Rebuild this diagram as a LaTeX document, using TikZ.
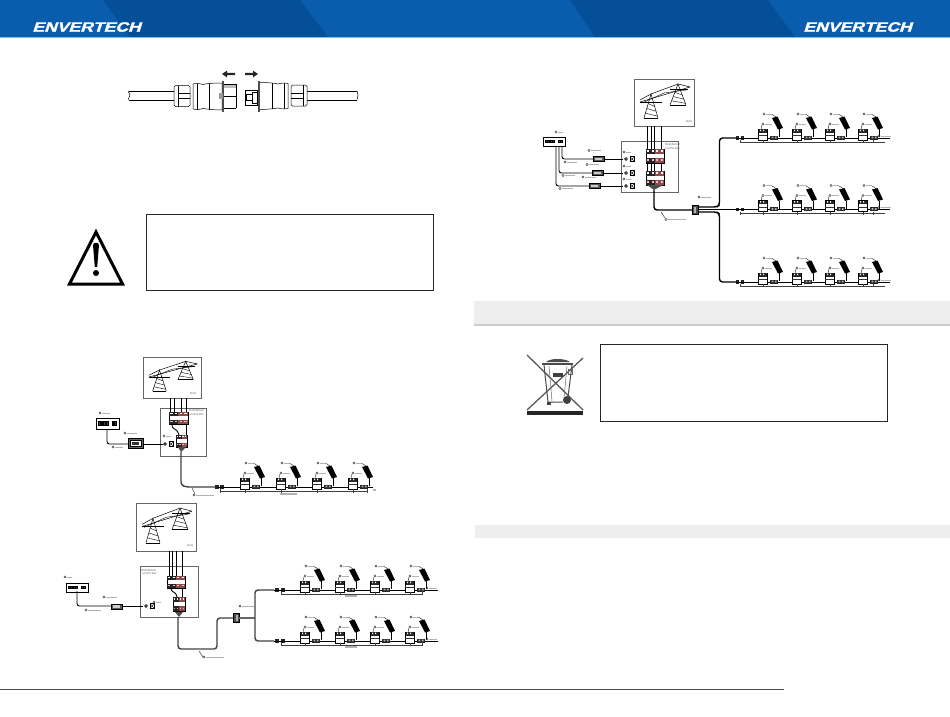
\documentclass[tikz,border=0pt]{standalone}
\usepackage{fontspec}
\setmainfont{Liberation Sans}
\newfontfamily\logofont[FakeBold=1.6,FakeSlant=0.25]{Liberation Sans}
\usepackage{xcolor}
\usetikzlibrary{calc}

\definecolor{bandblue}{HTML}{0A5CAD}
\definecolor{banddark}{HTML}{054F99}
\definecolor{barfill}{HTML}{EEEEEE}

\tikzset{
    wire/.style={line width=0.9pt,line join=round,rounded corners=2.5pt},
    trunk/.style={line width=1.4pt,black!75,line join=round,rounded corners=3pt},
    thin wire/.style={line width=0.45pt,black!75},
    tagline/.style={line width=1.1pt,black!30},
    frame/.style={line width=0.6pt,black!60},
    notebox/.style={line width=0.9pt,draw=black!85,fill=white},
    tinytext/.style={font=\fontsize{3}{3.4}\selectfont,text=black!60,align=left,inner sep=0pt},
    logotext/.style={font=\logofont\bfseries\fontsize{13.5}{14}\selectfont,text=white,inner sep=0pt},
    % small ring with a greyed-out caption behind it
    tag/.pic={
        \draw[line width=0.4pt,black!85] (0,0) circle (1.1);
        \draw[tagline] (1.8,0.3) -- ++(#1,0);
    },
    % one microinverter with its panel, origin on the string line
    microunit/.pic={
        \fill[black] (9,-20) -- (14.5,-21.5) -- (20,-10) -- (15,-8.5) -- cycle;
        \draw[line width=0.7pt] (16,-9) -- (16,-1);
        \draw[line width=0.6pt,fill=white] (-5,-9) rectangle (4,2);
        \fill[black!85] (-4.5,-9) rectangle (3.5,-5.5);
        \fill[white] (-3,-8.4) rectangle (-1.8,-7) (0,-8.4) rectangle (1.2,-7);
        \fill[black!80] (-5,-3) rectangle (4,-1.6);
        \fill[black!85] (7,-2.5) rectangle (15,1.8);
        \fill[white!70!black] (8.6,-1.4) rectangle (10.4,0.4) (11.8,-1.4) rectangle (13.6,0.4);
        \pic at (1,-24) {tag=6};
        \draw[line width=0.35pt] (9,-23.6) -- (13,-21);
        \pic at (0,-14) {tag=7};
        \draw[line width=0.35pt] (-1,-13) -- (-2,-9);
    },
    % row of four breaker poles
    breaker/.pic={
        \draw[line width=0.4pt,fill=white] (0,0) rectangle (18,12);
        \fill[black!85] (0,0) rectangle (9,4);
        \fill[red!35!black!70] (9,0) rectangle (18,4);
        \fill[black!85] (0,7.5) rectangle (9,12);
        \fill[red!35!black!70] (9,7.5) rectangle (18,12);
        \foreach \pole in {1,5.5,10,14.5} {
            \fill[white] (\pole,0.8) rectangle ++(2.4,1.6);
            \fill[white!70!red] (\pole,8.8) rectangle ++(2.4,1.6);
        }
    },
    % the two pylons, in a box of 60 by 47
    pylons/.pic={
        \draw[frame,fill=white] (0,0) rectangle (60,47);
        \foreach \tx/\ty/\tw/\th in {17/15/7/24,44/5/8/21} {
            \draw[line width=0.5pt] (\tx-\tw,\ty+\th) -- (\tx,\ty) -- (\tx+\tw,\ty+\th);
            \foreach \st in {0.4,0.6,0.8} {
                \draw[line width=0.4pt] ($(\tx,\ty)!\st!(\tx-\tw,\ty+\th)$) -- ($(\tx,\ty)!\st+0.12!(\tx+\tw,\ty+\th)$);
            }
            \draw[line width=0.4pt] (\tx-\tw,\ty+\th) -- (\tx+\tw,\ty+\th);
        }
        \draw[line width=0.5pt] (6,23) -- (56,8);
        \draw[line width=0.5pt] (6,21) -- (17,15) -- (44,5) -- (56,8);
        \draw[line width=0.4pt] (8,24) -- (30,14) -- (52,11);
        \draw[line width=0.4pt] (6,23) -- (28,23) (36,10) -- (54,10);
    },
    % the plug in the field cable
    plug/.pic={
        \fill[black!85] (-1.9,-1.6) rectangle (1.9,1.6);
    },
    % terminal pair in the control box
    outlet/.pic={
        \draw[line width=0.7pt] (0,0) circle (1.3);
        \draw[line width=0.7pt] (4,-2.5) rectangle (8.5,2.5);
        \draw[line width=0.4pt] (4,-2.5) -- (8.5,2.5) (4,2.5) -- (8.5,-2.5);
    },
    % dark box on the trunk
    junction/.pic={
        \draw[line width=0.5pt,fill=black!70] (-2.8,-4.5) rectangle (2.8,4.5);
        \fill[white!70!black] (-1,-3) rectangle (1,3);
    },
    % monitoring unit
    gateway/.pic={
        \draw[line width=0.6pt,fill=white] (0,0) rectangle (22,9);
        \foreach \sx in {2,4.5,7,9.5,15,17.5} {
            \draw[line width=0.3pt,fill=black!75] (\sx,3) rectangle ++(1.8,2.6);
        }
    },
    % half of the waterproof coupling
    coupler/.pic={
        \draw[line width=0.5pt,fill=white,rounded corners=1.5pt] (0,-10.5) rectangle (16,10.5);
        \draw[line width=0.5pt] (4,-10.5) -- (4,10.5) (4,-2.5) -- (16,-2.5) (4,2.5) -- (16,2.5);
        \draw[line width=0.5pt,fill=white] (19,-12) .. controls (23,-13) and (25,-12.5) .. (29,-11.5) .. controls (32,-12.5) and (40,-13) .. (48,-13)
            -- (48,14) .. controls (40,14) and (32,13) .. (29,12.5) .. controls (25,13.5) and (23,14) .. (19,13) -- cycle;
        \draw[line width=0.5pt] (23,-12.5) -- (23,13.5) (35,-12.5) -- (35,13.5);
        \fill[black!70] (47.5,-15) rectangle (49.5,16);
    },
    % short heavy arrow, pointing along +x
    pullarrow/.pic={
        \fill[black!85] (0,-1.2) -- (8,-1.2) -- (8,-3.4) -- (13,0) -- (8,3.4) -- (8,1.2) -- (0,1.2) -- cycle;
    }
}

\begin{document}
\begin{tikzpicture}[x=1pt,y=-1pt]
    \useasboundingbox (0,0) rectangle (950,717);

    % Header band of both pages
    \fill[bandblue] (0,0) rectangle (950,37);
    \fill[banddark] (103,0) -- (300,0) -- (328,37) -- (130,37) -- cycle;
    \fill[banddark] (570,0) -- (768,0) -- (795,37) -- (595,37) -- cycle;
    \fill[blue!45!cyan!55!white] (0,37) rectangle (950,38);
    \node[logotext] (logoleft) at (86.5,27) {\scalebox{1.3}[1]{ENVERTECH}};
    \node[logotext] (logoright) at (857.5,27) {\scalebox{1.3}[1]{ENVERTECH}};

    % Cable coupling at the top of the left page
    \draw[line width=0.5pt] (129,91) -- (175,91) (129,100) -- (175,100);
    \draw[line width=0.5pt] (128,91) -- (130,95) -- (128,100);
    \draw[line width=0.5pt] (307,91) -- (357,91) (307,100) -- (357,100);
    \draw[line width=0.5pt] (357,91) -- (358,95) -- (357,100);
    \pic at (174,96) {coupler};
    \pic[xscale=-1] at (307,95.5) {coupler};
    \draw[line width=0.45pt] (224,84) -- (236,84) (224,108) -- (236,108) (224,96) -- (236,96) (236,84) -- (236,108);
    \fill[black!25] (224,84.5) rectangle (236,88);
    \fill[black!40] (219,93) rectangle (223,99);
    \draw[line width=0.5pt] (245,90) rectangle (257,105);
    \draw[line width=0.4pt] (246,94) rectangle (252,100);
    \draw[line width=0.4pt] (252,92) rectangle (257,103);
    \pic[xscale=-1] at (235,74) {pullarrow};
    \pic at (245,74) {pullarrow};

    % Warning sign and its box
    \draw[line width=3pt,line join=miter] (96,232) -- (69.5,284) -- (122.5,284) -- cycle;
    \fill[black] (93,245) .. controls (93,242) and (99,242) .. (99,245) -- (97.2,267) -- (94.8,267) -- cycle;
    \fill[black] (96,273) circle (3);
    \draw[notebox] (146.5,214) rectangle (433,290);

    % Section bars of the right page
    \fill[barfill] (474,301) rectangle (950,324);
    \fill[black!20] (474,324) rectangle (950,326);
    \fill[barfill] (475,525) rectangle (950,538);

    % Crossed-out bin
    \draw[line width=1.3pt,black!65] (527,355) -- (583,410) (583,358) -- (527,410);
    \fill[black!85] (527,411) rectangle (583,415);
    \fill[black!70] (542,362.5) rectangle (573,364.5);
    \fill[black!70] (546,362) .. controls (550,358) and (565,358) .. (570,362) -- cycle;
    \draw[line width=1pt,black!70] (544,365) -- (548,402) -- (563,402) (572,365) -- (568,397);
    \draw[line width=0.5pt,black!60] (549,366) -- (552,401) (567,366) -- (564,398);
    \fill[black!75] (567,400) circle (4);
    \fill[black!75] (553,373) rectangle (563,377);
    \draw[line width=0.6pt,black!60] (568,369) rectangle (572,374);
    \fill[black!75] (547,402) rectangle (551,405);
    \draw[notebox] (600,344.5) rectangle (887,421);

    % Footer rule
    \draw[line width=1pt,black!70] (0,689) -- (784,689);

    % ---- Single phase diagram, left page top
    \pic[xscale=0.97,yscale=0.87] at (143,357) {pylons};
    \node[tinytext] (gridone) at (193,393) {Grid};
    \draw[frame] (160,408) rectangle (206,456);
    \node[tinytext,anchor=north west] (boxone) at (189,409.5) {Distribution\\ control box};
    \foreach \wx in {170,174,181,186} {
        \draw[line width=0.9pt] (\wx,398) -- (\wx,412);
    }
    \pic[xscale=1.05] at (169,412) {breaker};
    \pic[xscale=0.62] at (176,435) {breaker};
    \draw[wire] (172,424) -- (172,428) -- (177,430) -- (179,435);
    \draw[wire] (186,424) -- (186,435);
    \fill[black!70] (178,447) -- (186,447) -- (181,452) -- cycle;
    \coordinate (feedone) at (181,452);
    \coordinate (plugone) at (217,487);
    \draw[trunk] (feedone) -- (181,485) -- (186,487) -- (plugone);
    \pic at (217,487) {plug};
    \pic at (222,487) {plug};
    \draw[wire] (plugone) -- (373,487);
    \foreach \ux in {245,281,317,353} {
        \pic at (\ux,487) {microunit};
        \draw[thin wire] (\ux,489) -- (\ux,493);
    }
    \draw[thin wire] (220,489) -- (220,493) (220,491) -- (367,491) (367,489) -- (367,493);
    \draw[tagline] (280,494) -- (297,494);
    \draw[tagline] (373,490) -- (376,490);
    \draw[line width=0.35pt] (192,488) -- (195,494);
    \pic at (194,495) {tag=18};
    \pic at (96,418) [xscale=1.05,yscale=1.2] {gateway};
    \pic at (100,413) {tag=8};
    \draw[wire] (107,429) -- (107,444) -- (128,444);
    \pic at (113,447) {tag=8};
    \draw[line width=0.5pt,fill=black!60] (128,438) rectangle (143,448);
    \draw[line width=0.4pt,fill=white] (130,440) rectangle (141,446);
    \fill[black!80] (132,441.5) rectangle (139,444.5);
    \pic at (125,433) {tag=10};
    \draw[wire] (143,444) -- (163,444);
    \pic at (165,444) {outlet};
    \pic at (164,436) {tag=5};

    % ---- Split phase diagram, left page bottom
    \pic[xscale=1,yscale=1.02] at (136,503) {pylons};
    \node[tinytext] (gridtwo) at (190,545) {Grid};
    \draw[frame] (140,566) rectangle (198,617);
    \node[tinytext,anchor=north west] (boxtwo) at (141,569) {Distribution\\ \ control box};
    \foreach \wx in {169,172,176,182} {
        \draw[line width=0.9pt] (\wx,551) -- (\wx,576);
    }
    \pic at (167,576) {breaker};
    \pic[xscale=0.67,yscale=1.2] at (173,597) {breaker};
    \draw[wire] (171,588) -- (171,591) -- (176,593) -- (177,597);
    \draw[wire] (182,588) -- (182,597);
    \fill[black!70] (175,612) -- (183,612) -- (179,617) -- cycle;
    \coordinate (feedtwo) at (178,617);
    \coordinate (jointwo) at (235,618);
    \draw[trunk] (feedtwo) -- (178,649) -- (217,649) -- (217,618) -- (jointwo);
    \pic at (236.5,618) {junction};
    \pic at (240,606) {tag=12};
    \draw[line width=1.8pt,black!60] (239,618) -- (255,618);
    \draw[trunk] (274,590) -- (255,590) -- (255,641) -- (274,641);
    \foreach \ry in {590,641} {
        \pic at (277,\ry) {plug};
        \pic at (283,\ry) {plug};
        \draw[wire] (274,\ry) -- (438,\ry);
        \foreach \ux in {305,340,375,410} {
            \pic at (\ux,\ry) {microunit};
            \draw[thin wire] (\ux,\ry+2) -- (\ux,\ry+5);
        }
        \draw[thin wire] (281,\ry+2) -- (281,\ry+4) -- (422,\ry+4) -- (422,\ry+1);
        \draw[tagline] (345,\ry+6) -- (357,\ry+6);
        \pic at (427,\ry-2) {tag=8};
    }
    \pic at (66,583) {gateway};
    \pic at (65,577) {tag=5};
    \draw[wire] (77,591) -- (77,606) -- (111,606);
    \pic at (86,610) {tag=13};
    \draw[line width=0.5pt,fill=black!65] (111,604) rectangle (122,609);
    \fill[black!20] (113,605) rectangle (120,607.5);
    \pic at (104,597) {tag=11};
    \draw[wire] (122,606) -- (143,606);
    \pic at (146,606) {outlet};
    \pic at (154,602) {tag=5};
    \draw[line width=0.35pt] (199,651) -- (203,657);
    \pic at (204,657) {tag=18};

    % ---- Three phase diagram, right page top
    \pic at (634,79) {pylons};
    \node[tinytext] (gridthree) at (689,121) {Grid};
    \draw[frame] (621,141) rectangle (678,192);
    \node[tinytext,anchor=north west] (boxthree) at (665,143.5) {Distribution\\ control box};
    \foreach \wx in {647,651,654,661} {
        \draw[line width=0.9pt] (\wx,126) -- (\wx,171);
    }
    \pic[yscale=1.15] at (646,149) {breaker};
    \pic[yscale=1.15] at (646,171) {breaker};
    \foreach \wx in {647,651,654,661} {
        \draw[line width=0.6pt] (\wx,163) -- (\wx,171);
    }
    \fill[black!70] (647,185) -- (663,185) -- (654,190) -- cycle;
    \coordinate (feedthree) at (654,190);
    \coordinate (jointhree) at (692,210);
    \draw[trunk,black] (feedthree) -- (654,210) -- (jointhree);
    \pic at (695,209.5) {junction};
    \pic at (699,197) {tag=10};
    \draw[trunk,black] (698,207) -- (717,207) -- (719.5,205) -- (719.5,138) -- (736,138);
    \draw[trunk,black] (698,209.5) -- (736,209.5);
    \draw[trunk,black] (698,212) -- (717,212) -- (719.5,214) -- (719.5,282) -- (736,282);
    \foreach \ry in {138,209.5,282} {
        \pic at (737.5,\ry) {plug};
        \pic at (742.5,\ry) {plug};
        \draw[wire] (736,\ry) -- (890,\ry);
        \foreach \ux in {763,797,830,863} {
            \pic at (\ux,\ry) {microunit};
            \draw[thin wire] (\ux,\ry+2) -- (\ux,\ry+5);
        }
        \draw[thin wire] (740,\ry+2) -- (740,\ry+5) (740,\ry+4) -- (885,\ry+4) (873,\ry+2) -- (873,\ry+5);
        \pic at (879,\ry-2) {tag=10};
    }
    \pic at (543,137) {gateway};
    \pic at (556,132) {tag=5};
    % three meter lines, from the gateway to the box
    \foreach \wx/\wy/\dx in {562/159/593,559/173/592,556/186/589} {
        \draw[wire] (\wx,146) -- (\wx,\wy) -- (\dx,\wy);
        \draw[line width=0.5pt,fill=black!65] (\dx,\wy-2.5) rectangle (\dx+11,\wy+2.5);
        \fill[black!20] (\dx+2,\wy-1.2) rectangle (\dx+9,\wy+0.8);
        \draw[wire] (\dx+11,\wy) -- (623,\wy);
        \pic at (626,\wy) {outlet};
        \pic at (624,\wy-7) {tag=5};
    }
    \pic at (589,150.5) {tag=10};
    \pic at (587,164.5) {tag=10};
    \pic at (583,177) {tag=11};
    \pic at (565,162) {tag=10};
    \pic at (563,175.5) {tag=10};
    \pic at (560,188.5) {tag=11};
    \draw[line width=0.35pt] (661,212) -- (665,218);
    \pic at (666,219.5) {tag=18};
\end{tikzpicture}
\end{document}
